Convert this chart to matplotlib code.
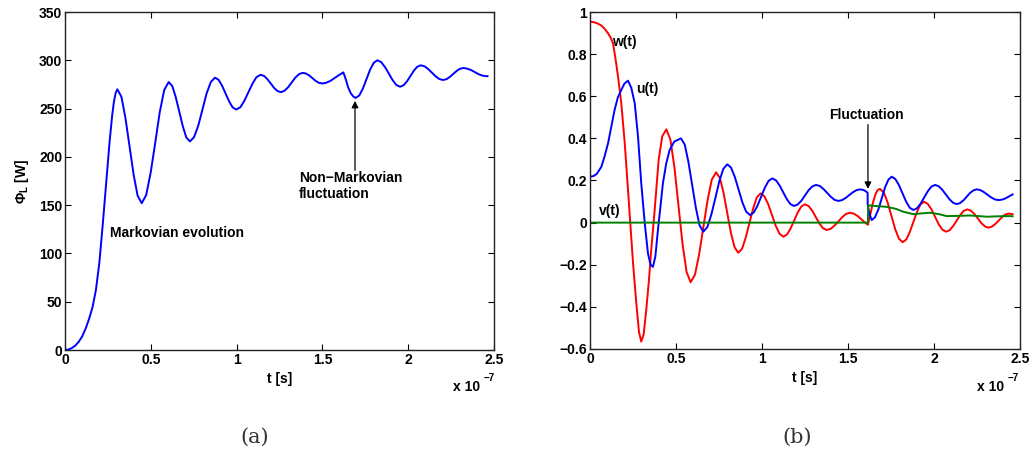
import matplotlib
matplotlib.use("Agg")
import matplotlib.pyplot as plt

plt.rcParams['font.family'] = ['Liberation Sans', 'DejaVu Sans']
plt.rcParams['mathtext.fontset'] = 'custom'
plt.rcParams['mathtext.rm'] = 'Liberation Sans:bold'
plt.rcParams['mathtext.it'] = 'Liberation Sans:bold'
plt.rcParams['mathtext.bf'] = 'Liberation Sans:bold'

# ---------------- data (time in units of 1e-7 s) ----------------
t_phi = [0.00, 0.02, 0.04, 0.06, 0.08, 0.10, 0.12, 0.14, 0.16, 0.18, 0.20, 0.22,
         0.24, 0.26, 0.275, 0.285, 0.295, 0.305,
         0.329, 0.352, 0.376, 0.400, 0.423, 0.447,
         0.473, 0.499, 0.526, 0.552, 0.578, 0.604,
         0.625, 0.645, 0.666, 0.687, 0.707, 0.728,
         0.752, 0.777, 0.801, 0.825, 0.850, 0.874,
         0.895, 0.915, 0.936, 0.957, 0.977, 0.998,
         1.022, 1.045, 1.069, 1.093, 1.116, 1.140,
         1.160, 1.179, 1.199, 1.218, 1.238, 1.257,
         1.278, 1.300, 1.321, 1.342, 1.364, 1.385,
         1.404, 1.423, 1.442, 1.460, 1.479, 1.498,
         1.520, 1.545, 1.570, 1.595, 1.622,
         1.635, 1.650, 1.665, 1.680, 1.694,
         1.715, 1.736, 1.757, 1.778, 1.799, 1.820,
         1.842, 1.864, 1.887, 1.909, 1.931, 1.953,
         1.973, 1.993, 2.013, 2.033, 2.053, 2.073,
         2.095, 2.116, 2.138, 2.160, 2.181, 2.203,
         2.223, 2.242, 2.262, 2.282, 2.301, 2.321,
         2.343, 2.366, 2.388, 2.410, 2.433, 2.455, 2.462]
phi_L = [0, 0.5, 2, 4.5, 8.5, 14, 22, 32, 44, 62, 90, 130,
         173, 216, 243, 257, 266, 270,
         262.1, 240.5, 211, 181.5, 159.9, 152,
         160.4, 183.4, 214.8, 246.1, 269.1, 277.5,
         273.4, 262.1, 246.8, 231.4, 220.1, 216,
         220.4, 232.5, 249, 265.5, 277.6, 282,
         279.8, 273.8, 265.5, 257.3, 251.2, 249,
         251.4, 258, 267, 276, 282.6, 285,
         283.8, 280.5, 276, 271.5, 268.2, 267,
         268.3, 272, 277, 282, 285.7, 287,
         286.3, 284.3, 281.5, 278.8, 276.7, 276,
         276.6, 278.5, 281.5, 284.5, 287.5,
         281, 272, 266, 262.5, 261,
         263.6, 270.8, 280.5, 290.3, 297.4, 300,
         298.2, 293.2, 286.3, 279.5, 274.4, 272.6,
         274.1, 278.2, 283.7, 289.3, 293.3, 294.8,
         293.8, 291, 287.2, 283.4, 280.6, 279.6,
         280.4, 282.7, 285.8, 288.9, 291.2, 292,
         291.4, 289.9, 287.8, 285.6, 284.1, 283.5, 283.6]

t_w = [0.00, 0.02, 0.04, 0.066, 0.085, 0.105, 0.12, 0.134, 0.148, 0.163, 0.182, 0.202,
       0.221, 0.234, 0.25, 0.269, 0.285, 0.298,
       0.312, 0.327, 0.342, 0.356, 0.376, 0.399, 0.420, 0.444,
       0.4675, 0.491, 0.5145, 0.538, 0.5615, 0.585,
       0.610, 0.634, 0.659, 0.684, 0.708, 0.733,
       0.7545, 0.776, 0.7975, 0.819, 0.8405, 0.862,
       0.884, 0.905, 0.927, 0.949, 0.970, 0.992,
       1.014, 1.036, 1.058, 1.080, 1.102, 1.124,
       1.145, 1.166, 1.187, 1.208, 1.229, 1.250,
       1.271, 1.292, 1.313, 1.334, 1.355, 1.376,
       1.399, 1.421, 1.444, 1.467, 1.489, 1.512,
       1.535, 1.555, 1.575, 1.595, 1.616,
       1.630, 1.645, 1.660, 1.673, 1.686,
       1.708, 1.730, 1.752, 1.774, 1.796, 1.818,
       1.839, 1.859, 1.880, 1.901, 1.921, 1.942,
       1.963, 1.985, 2.006, 2.027, 2.049, 2.070,
       2.091, 2.111, 2.132, 2.153, 2.173, 2.194,
       2.214, 2.235, 2.255, 2.275, 2.296, 2.316,
       2.336, 2.356, 2.376, 2.395, 2.415, 2.435, 2.457]
w_t = [0.954, 0.952, 0.947, 0.936, 0.920, 0.899, 0.878, 0.850, 0.78, 0.693, 0.567, 0.377,
       0.155, 0.0, -0.19, -0.38, -0.52, -0.565,
       -0.53, -0.415, -0.28, -0.13, 0.06, 0.297, 0.41, 0.443,
       0.394, 0.2615, 0.080, -0.1015, -0.234, -0.283,
       -0.248, -0.1525, -0.022, 0.1085, 0.204, 0.239,
       0.2134, 0.1435, 0.048, -0.0475, -0.117, -0.143,
       -0.124, -0.0725, -0.002, 0.0685, 0.120, 0.139,
       0.125, 0.0875, 0.036, -0.0155, -0.053, -0.067,
       -0.0567, -0.0285, 0.010, 0.0485, 0.0767, 0.087,
       0.0788, 0.0565, 0.026, -0.0045, -0.0268, -0.035,
       -0.0295, -0.0145, 0.006, 0.0265, 0.0415, 0.047,
       0.042, 0.032, 0.018, 0.003, -0.010,
       0.04, 0.095, 0.135, 0.155, 0.160,
       0.143, 0.097, 0.0335, -0.030, -0.076, -0.093,
       -0.080, -0.045, 0.003, 0.051, 0.086, 0.099,
       0.0895, 0.0635, 0.028, -0.0075, -0.0335, -0.043,
       -0.036, -0.0165, 0.010, 0.0365, 0.056, 0.063,
       0.057, 0.041, 0.0195, -0.002, -0.018, -0.024,
       -0.0195, -0.007, 0.0095, 0.026, 0.0385, 0.043, 0.040]

t_u = [0.00, 0.02, 0.04, 0.066, 0.085, 0.105, 0.125, 0.143, 0.162, 0.182, 0.20, 0.221,
       0.24, 0.26, 0.279, 0.298, 0.318, 0.337, 0.352, 0.366,
       0.38, 0.395, 0.41, 0.424, 0.443, 0.463, 0.49, 0.529,
       0.551, 0.572, 0.594, 0.616, 0.637, 0.659,
       0.682, 0.705, 0.729, 0.752, 0.775, 0.798,
       0.820, 0.842, 0.864, 0.886, 0.908, 0.930,
       0.952, 0.973, 0.995, 1.017, 1.038, 1.060,
       1.081, 1.102, 1.123, 1.144, 1.165, 1.186,
       1.207, 1.229, 1.250, 1.271, 1.293, 1.314,
       1.336, 1.357, 1.379, 1.401, 1.422, 1.444,
       1.465, 1.486, 1.507, 1.528, 1.549, 1.570,
       1.590, 1.605, 1.614, 1.6145, 1.625, 1.638,
       1.657, 1.677, 1.696, 1.715, 1.735, 1.754,
       1.775, 1.796, 1.817, 1.838, 1.859, 1.880,
       1.901, 1.922, 1.943, 1.964, 1.985, 2.006,
       2.027, 2.048, 2.069, 2.090, 2.111, 2.132,
       2.151, 2.171, 2.190, 2.209, 2.229, 2.248,
       2.269, 2.290, 2.311, 2.332, 2.353, 2.374,
       2.395, 2.415, 2.435, 2.457]
u_t = [0.218, 0.221, 0.232, 0.265, 0.315, 0.377, 0.46, 0.535, 0.595, 0.63, 0.66, 0.674,
       0.64, 0.567, 0.41, 0.187, 0.0, -0.146, -0.20, -0.21,
       -0.16, -0.035, 0.08, 0.187, 0.28, 0.345, 0.385, 0.40,
       0.370, 0.289, 0.1785, 0.068, -0.013, -0.043,
       -0.0216, 0.037, 0.117, 0.197, 0.255, 0.277,
       0.261, 0.217, 0.1565, 0.096, 0.052, 0.036,
       0.0477, 0.0795, 0.123, 0.1665, 0.198, 0.210,
       0.201, 0.177, 0.1445, 0.112, 0.088, 0.079,
       0.0857, 0.104, 0.129, 0.154, 0.172, 0.179,
       0.174, 0.160, 0.141, 0.122, 0.108, 0.103,
       0.1067, 0.117, 0.1305, 0.144, 0.154, 0.158,
       0.155, 0.148, 0.142, 0.088, 0.040, 0.012,
       0.0258, 0.0635, 0.115, 0.1665, 0.204, 0.218,
       0.207, 0.1785, 0.139, 0.0995, 0.0706, 0.060,
       0.068, 0.0898, 0.1195, 0.149, 0.171, 0.179,
       0.173, 0.156, 0.1335, 0.111, 0.094, 0.088,
       0.0927, 0.1055, 0.123, 0.1405, 0.153, 0.158,
       0.1546, 0.145, 0.1325, 0.120, 0.1104, 0.107,
       0.109, 0.115, 0.124, 0.134]

t_v = [0.00, 1.616, 1.617, 1.66, 1.725, 1.78, 1.82, 1.88, 1.93, 1.977, 2.03,
       2.074, 2.14, 2.209, 2.306, 2.37, 2.442, 2.457]
v_t = [0.0, 0.0, 0.082, 0.079, 0.075, 0.065, 0.052, 0.040, 0.044, 0.047, 0.040,
       0.031, 0.032, 0.034, 0.028, 0.030, 0.031, 0.030]

xticks = [0, 0.5, 1, 1.5, 2, 2.5]
xticklabels = ['0', '0.5', '1', '1.5', '2', '2.5']
yticks_a = [0, 50, 100, 150, 200, 250, 300, 350]
yticks_b = [-0.6, -0.4, -0.2, 0, 0.2, 0.4, 0.6, 0.8, 1]
yticklabels_b = ['\u22120.6', '\u22120.4', '\u22120.2', '0', '0.2', '0.4', '0.6', '0.8', '1']

# ---------------- figure ----------------
W, H = 1032, 458
fig = plt.figure(figsize=(W / 100, H / 100), dpi=100)
fs = 10


def px_axes(x0, y0, x1, y1):
    return fig.add_axes([x0 / W, 1 - y1 / H, (x1 - x0) / W, (y1 - y0) / H])


def style(ax):
    for s in ax.spines.values():
        s.set_linewidth(1.0)
        s.set_color('#222222')
    ax.tick_params(direction='in', top=True, right=True, length=4, width=0.8,
                   labelsize=fs, pad=2)
    for lab in ax.get_xticklabels() + ax.get_yticklabels():
        lab.set_fontweight('bold')


axa = px_axes(65, 12, 494, 350)
axa.plot(t_phi, phi_L, color='#0000ff', lw=1.4)
axa.set_xlim(0, 2.5)
axa.set_ylim(0, 350)
axa.set_xticks(xticks)
axa.set_xticklabels(xticklabels)
axa.set_yticks(yticks_a)
style(axa)
axa.set_xlabel('t [s]', fontsize=fs, fontweight='bold', labelpad=4)
axa.set_ylabel(r'$\Phi_{\mathrm{L}}$ [W]', fontsize=fs, fontweight='bold', labelpad=6)
axa.text(0.262, 121, 'Markovian evolution', fontsize=fs, fontweight='bold', va='center')
axa.text(1.364, 170, 'Non\u2212Markovian\nfluctuation', fontsize=fs, fontweight='bold',
         va='center', linespacing=1.15)
axa.annotate('', xy=(1.69, 258), xytext=(1.69, 186),
             arrowprops=dict(arrowstyle='-|>', color='black', lw=0.9,
                             mutation_scale=10, shrinkA=0, shrinkB=0))
fig.text(453 / W, 1 - 387 / H, 'x 10', fontsize=fs, fontweight='bold', va='center')
fig.text(484 / W, 1 - 378 / H, '\u22127', fontsize=7, fontweight='bold', va='center')

axb = px_axes(590, 12, 1020, 349)
axb.plot(t_w, w_t, color='#ff0000', lw=1.4)
axb.plot(t_u, u_t, color='#0000ff', lw=1.4)
axb.plot(t_v, v_t, color='#008000', lw=1.4)
axb.set_xlim(0, 2.5)
axb.set_ylim(-0.6, 1)
axb.set_xticks(xticks)
axb.set_xticklabels(xticklabels)
axb.set_yticks(yticks_b)
axb.set_yticklabels(yticklabels_b)
style(axb)
axb.set_xlabel('t [s]', fontsize=fs, fontweight='bold', labelpad=4)
axb.text(0.13, 0.857, 'w(t)', fontsize=fs, fontweight='bold', va='center')
axb.text(0.27, 0.634, 'u(t)', fontsize=fs, fontweight='bold', va='center')
axb.text(0.05, 0.055, 'v(t)', fontsize=fs, fontweight='bold', va='center')
axb.text(1.61, 0.511, 'Fluctuation', fontsize=fs, fontweight='bold', va='center', ha='center')
axb.annotate('', xy=(1.616, 0.16), xytext=(1.616, 0.465),
             arrowprops=dict(arrowstyle='-|>', color='black', lw=0.9,
                             mutation_scale=10, shrinkA=0, shrinkB=0))
fig.text(977 / W, 1 - 387 / H, 'x 10', fontsize=fs, fontweight='bold', va='center')
fig.text(1008 / W, 1 - 378 / H, '\u22127', fontsize=7, fontweight='bold', va='center')

fig.text(255 / W, 1 - 437 / H, '(a)', fontsize=15, family='DejaVu Serif',
         fontweight='light', ha='center', va='center', color='#333333')
fig.text(797 / W, 1 - 437 / H, '(b)', fontsize=15, family='DejaVu Serif',
         fontweight='light', ha='center', va='center', color='#333333')

fig.savefig('out.png', dpi=100)
